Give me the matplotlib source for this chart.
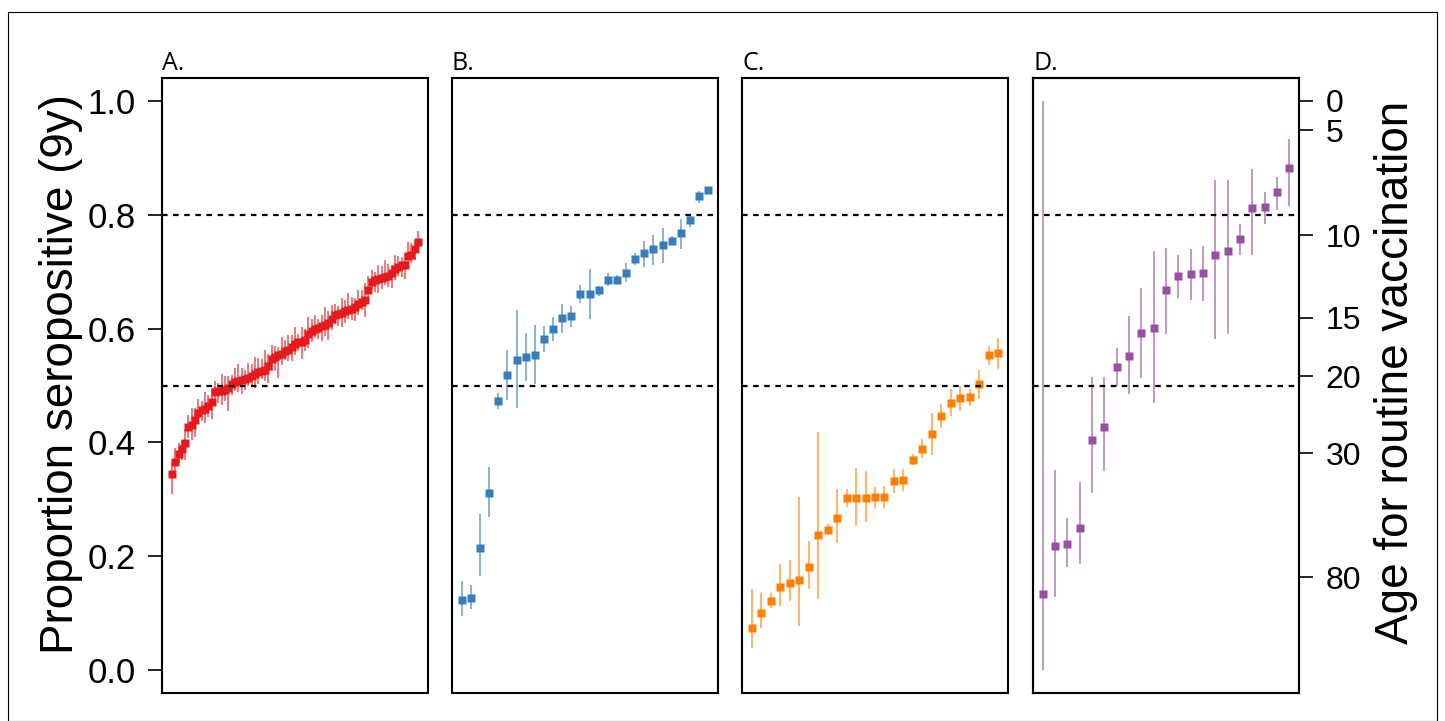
import numpy as np
import matplotlib.pyplot as plt
from matplotlib.patches import Rectangle

plt.rcParams['font.family'] = ['Liberation Sans', 'DejaVu Sans']

# ---- panel A (many countries, red) ----
a_est = [0.345, 0.366, 0.379, 0.389, 0.399, 0.428, 0.430, 0.440, 0.452, 0.457,
         0.459, 0.464, 0.471, 0.488, 0.490, 0.490, 0.492, 0.496, 0.503, 0.506,
         0.508, 0.510, 0.512, 0.514, 0.517, 0.520, 0.523, 0.526, 0.528, 0.535,
         0.546, 0.550, 0.553, 0.556, 0.560, 0.563, 0.568, 0.573, 0.576, 0.577,
         0.580, 0.590, 0.596, 0.599, 0.601, 0.604, 0.607, 0.610, 0.617, 0.623,
         0.625, 0.628, 0.630, 0.632, 0.635, 0.638, 0.643, 0.647, 0.650, 0.667,
         0.682, 0.685, 0.687, 0.689, 0.691, 0.693, 0.697, 0.705, 0.708, 0.711,
         0.712, 0.727, 0.730, 0.740, 0.752]
a_err_lo = [0.035, 0.020, 0.015, 0.020, 0.030, 0.020, 0.025, 0.030, 0.015, 0.020,
            0.025, 0.020, 0.030, 0.015, 0.020, 0.025, 0.020, 0.040, 0.020, 0.015,
            0.020, 0.025, 0.020, 0.015, 0.020, 0.025, 0.020, 0.015, 0.020, 0.030,
            0.020, 0.025, 0.040, 0.020, 0.015, 0.020, 0.025, 0.020, 0.015, 0.030,
            0.020, 0.025, 0.020, 0.015, 0.020, 0.025, 0.020, 0.030, 0.020, 0.015,
            0.020, 0.025, 0.020, 0.015, 0.020, 0.025, 0.020, 0.015, 0.030, 0.020,
            0.015, 0.020, 0.025, 0.020, 0.015, 0.020, 0.025, 0.020, 0.015, 0.020,
            0.025, 0.020, 0.015, 0.020, 0.015]
a_err_hi = [0.020, 0.025, 0.020, 0.015, 0.025, 0.020, 0.030, 0.020, 0.025, 0.015,
            0.030, 0.020, 0.025, 0.020, 0.015, 0.030, 0.025, 0.020, 0.015, 0.025,
            0.030, 0.020, 0.015, 0.025, 0.020, 0.030, 0.025, 0.020, 0.035, 0.020,
            0.025, 0.020, 0.015, 0.030, 0.020, 0.025, 0.020, 0.030, 0.015, 0.025,
            0.020, 0.030, 0.020, 0.025, 0.015, 0.020, 0.030, 0.020, 0.025, 0.020,
            0.015, 0.025, 0.020, 0.030, 0.020, 0.015, 0.025, 0.020, 0.030, 0.025,
            0.020, 0.015, 0.025, 0.020, 0.030, 0.020, 0.015, 0.025, 0.020, 0.015,
            0.020, 0.025, 0.020, 0.015, 0.020]

# ---- panel B (blue) ----
b_est = [0.124, 0.127, 0.215, 0.311, 0.472, 0.518, 0.544, 0.550, 0.554, 0.582,
         0.599, 0.618, 0.622, 0.661, 0.661, 0.667, 0.686, 0.686, 0.698, 0.722,
         0.732, 0.739, 0.747, 0.754, 0.767, 0.791, 0.832, 0.843]
b_lo = [0.096, 0.107, 0.165, 0.269, 0.458, 0.474, 0.460, 0.508, 0.503, 0.559,
        0.578, 0.592, 0.603, 0.645, 0.616, 0.658, 0.674, 0.679, 0.681, 0.711,
        0.708, 0.712, 0.716, 0.746, 0.740, 0.779, 0.820, 0.838]
b_hi = [0.157, 0.150, 0.275, 0.357, 0.486, 0.563, 0.632, 0.592, 0.606, 0.604,
        0.620, 0.644, 0.640, 0.676, 0.705, 0.674, 0.698, 0.694, 0.715, 0.733,
        0.753, 0.765, 0.777, 0.763, 0.792, 0.800, 0.842, 0.849]

# ---- panel C (orange) ----
c_est = [0.075, 0.101, 0.122, 0.146, 0.154, 0.158, 0.182, 0.237, 0.247, 0.268,
         0.302, 0.302, 0.303, 0.304, 0.305, 0.333, 0.334, 0.370, 0.389, 0.415,
         0.447, 0.470, 0.478, 0.479, 0.502, 0.554, 0.557]
c_lo = [0.039, 0.074, 0.109, 0.112, 0.122, 0.077, 0.143, 0.125, 0.238, 0.223,
        0.287, 0.254, 0.261, 0.285, 0.285, 0.312, 0.314, 0.360, 0.372, 0.378,
        0.426, 0.447, 0.456, 0.464, 0.476, 0.536, 0.529]
c_hi = [0.142, 0.135, 0.135, 0.186, 0.193, 0.304, 0.227, 0.419, 0.256, 0.318,
        0.318, 0.356, 0.349, 0.322, 0.323, 0.354, 0.353, 0.379, 0.406, 0.451,
        0.468, 0.493, 0.500, 0.493, 0.528, 0.570, 0.584]

# ---- panel D (purple) ----
d_est = [0.133, 0.218, 0.221, 0.250, 0.405, 0.427, 0.532, 0.552, 0.592, 0.601,
         0.667, 0.692, 0.695, 0.697, 0.730, 0.736, 0.757, 0.811, 0.813, 0.839,
         0.882]
d_lo = [0.000, 0.129, 0.181, 0.186, 0.311, 0.350, 0.500, 0.485, 0.513, 0.470,
        0.591, 0.653, 0.650, 0.648, 0.581, 0.591, 0.729, 0.729, 0.784, 0.809,
        0.815]
d_hi = [1.000, 0.351, 0.268, 0.331, 0.515, 0.515, 0.565, 0.622, 0.672, 0.737,
        0.742, 0.730, 0.739, 0.745, 0.861, 0.861, 0.784, 0.881, 0.840, 0.866,
        0.933]

# right-hand axis: age for routine vaccination
age_labels = ['0', '5', '10', '15', '20', '30', '80']
age_pos = [1.0, 0.948, 0.764, 0.619, 0.516, 0.381, 0.163]

panel_names = ['A.', 'B.', 'C.', 'D.']
colors = ['#E41A1C', '#377EB8', '#FF7F00', '#984EA3']

a_lo = [e - d for e, d in zip(a_est, a_err_lo)]
a_hi = [e + d for e, d in zip(a_est, a_err_hi)]
panels = [(a_est, a_lo, a_hi), (b_est, b_lo, b_hi), (c_est, c_lo, c_hi), (d_est, d_lo, d_hi)]

W, H = 1445, 721
fig = plt.figure(figsize=(W / 100, H / 100), dpi=100)
lefts = [162, 452, 742, 1033]
ax_w, ax_top, ax_bot = 266, 78, 693

for i, (est, lo, hi) in enumerate(panels):
    ax = fig.add_axes([lefts[i] / W, (H - ax_bot) / H, ax_w / W, (ax_bot - ax_top) / H])
    n = len(est)
    x = np.arange(1, n + 1)
    ax.vlines(x, lo, hi, color=colors[i], lw=1.1, alpha=0.75)
    ax.plot(x, est, 's', ms=5.5, color=colors[i], mec='none')
    for h in (0.8, 0.5):
        ax.axhline(h, color='black', ls=(0, (2.5, 2.5)), lw=1.6)
    ax.set_xlim(1 - 0.04 * (n - 1), n + 0.04 * (n - 1))
    ax.set_ylim(-0.04, 1.04)
    ax.set_xticks([])
    for s in ax.spines.values():
        s.set_linewidth(1.5)
    if i == 0:
        ax.set_yticks([0, 0.2, 0.4, 0.6, 0.8, 1.0])
        ax.set_yticklabels(['0.0', '0.2', '0.4', '0.6', '0.8', '1.0'])
        ax.tick_params(axis='y', direction='out', length=10, width=1.2,
                       labelsize=25, pad=9)
    else:
        ax.set_yticks([])
    ax.text(0.0, 1.004, panel_names[i], transform=ax.transAxes,
            fontfamily=['Open Sans', 'DejaVu Sans'], fontsize=18,
            ha='left', va='bottom')
    if i == 3:
        ax2 = ax.twinx()
        ax2.set_ylim(-0.04, 1.04)
        ax2.set_yticks(age_pos)
        ax2.set_yticklabels(age_labels)
        ax2.tick_params(axis='y', direction='out', length=10, width=1.2,
                        labelsize=23, pad=9)
        for s in ax2.spines.values():
            s.set_linewidth(1.5)

fig.text(61 / W, 1 - 374 / H, 'Proportion seropositive (9y)', rotation=90,
         ha='center', va='center', fontsize=33)
fig.text(1396 / W, 1 - 372 / H, 'Age for routine vaccination', rotation=90,
         ha='center', va='center', fontsize=33)

fig.patches.append(Rectangle((8 / W, 0), (1437 - 8) / W, (H - 12) / H,
                             transform=fig.transFigure, fill=False, lw=0.8,
                             edgecolor='black'))

fig.savefig('out.png', dpi=100)
